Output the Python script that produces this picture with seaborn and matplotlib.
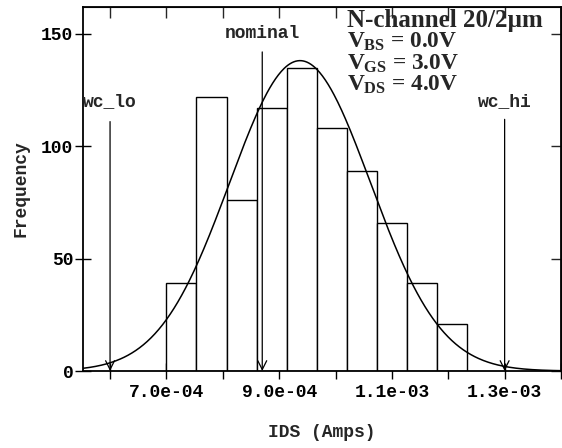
import numpy as np
import pandas as pd
import matplotlib
matplotlib.use("Agg")
import matplotlib.pyplot as plt
import seaborn as sns

# ---- data ----
bin_start = 7.0e-4
bin_width = 5.33e-5
counts = [39, 122, 76, 117, 135, 108, 89, 66, 39, 21]
fit_mean = 9.37e-4
fit_std = 1.25e-4
marker_names = ["wc_lo", "nominal", "wc_hi"]
marker_x = [6.0e-4, 8.7e-4, 1.3e-3]
marker_top = [111, 142, 112]
marker_label_y = [120, 150, 120]
xtick_major = [7.0e-4, 9.0e-4, 1.1e-3, 1.3e-3]
xtick_labels = ["7.0e-04", "9.0e-04", "1.1e-03", "1.3e-03"]
xtick_minor = [6.0e-4, 8.0e-4, 1.0e-3, 1.2e-3, 1.4e-3]
yticks = [0, 50, 100, 150]
cond_title = "N-channel 20/2\u00b5m"
cond_lines = [r"$V_{BS}$ = 0.0V", r"$V_{GS}$ = 3.0V", r"$V_{DS}$ = 4.0V"]

sns.set_style("ticks")
plt.rcParams["font.family"] = ["Liberation Mono", "DejaVu Sans"]
plt.rcParams["font.weight"] = "bold"
plt.rcParams["mathtext.fontset"] = "custom"
plt.rcParams["mathtext.rm"] = "Liberation Serif:bold"
plt.rcParams["mathtext.it"] = "Liberation Serif:bold"
plt.rcParams["mathtext.bf"] = "Liberation Serif:bold"

W, H = 562, 448
fig = plt.figure(figsize=(W / 100, H / 100), dpi=100)
L, R, T, B = 83, 561, 7, 371
ax = fig.add_axes([L / W, 1 - B / H, (R - L) / W, (B - T) / H])

edges = [float(bin_start + bin_width * i) for i in range(len(counts) + 1)]
centers = [(edges[i] + edges[i + 1]) / 2 for i in range(len(counts))]
df = pd.DataFrame({"IDS": centers, "n": counts})
sns.histplot(data=df, x="IDS", weights="n", bins=edges, color="white",
             edgecolor="black", linewidth=1.0, alpha=1, ax=ax)

xlo, xhi = 5.52e-4, 1.4e-3
xs = np.linspace(xlo, xhi, 500)
total = sum(counts)
ys = total * bin_width / (fit_std * np.sqrt(2 * np.pi)) * np.exp(-0.5 * ((xs - fit_mean) / fit_std) ** 2)
sns.lineplot(x=xs, y=ys, color="black", linewidth=1.1, ax=ax)

for name, mx, top, ly in zip(marker_names, marker_x, marker_top, marker_label_y):
    ax.annotate("", xy=(mx, 0), xytext=(mx, top),
                arrowprops=dict(arrowstyle="->", color="black", lw=0.9,
                                shrinkA=0, shrinkB=0, mutation_scale=16))
    ax.text(mx, ly, name, ha="center", va="center", fontsize=13,
            fontweight="bold", family="Liberation Mono")

ax.set_xlim(xlo, xhi)
ax.set_ylim(0, 162)
ax.set_xticks(xtick_major)
ax.set_xticklabels(xtick_labels)
ax.set_xticks(xtick_minor, minor=True)
ax.set_yticks(yticks)
ax.tick_params(axis="both", which="both", direction="inout", length=12, width=1.0,
               labelsize=13, colors="black")
ax.tick_params(axis="x", pad=3)
ax.tick_params(axis="y", pad=1)
for s in ax.spines.values():
    s.set_linewidth(1.3)
    s.set_color("black")
    s.set_visible(True)

secx = ax.secondary_xaxis("top")
secx.set_xticks(sorted(xtick_major + xtick_minor))
secx.tick_params(direction="in", length=8, width=1.0)
secx.set_xticklabels([])
secy = ax.secondary_yaxis("right")
secy.set_yticks(yticks)
secy.tick_params(direction="in", length=7, width=1.0)
secy.set_yticklabels([])

ax.set_xlabel("IDS (Amps)", fontsize=13, fontweight="bold")
ax.xaxis.label.set_va("center")
ax.xaxis.set_label_coords(0.5, -0.17)
ax.set_ylabel("Frequency", fontsize=13, fontweight="bold")
ax.yaxis.label.set_va("center")
ax.yaxis.set_label_coords(-0.13, 0.5)

fig.text(347 / W, 1 - 27 / H, cond_title, ha="left", va="baseline", fontsize=18,
         family="Liberation Serif", fontweight="bold")
for i, line in enumerate(cond_lines):
    fig.text(347 / W, 1 - (48 + 21.5 * i) / H, line, ha="left", va="baseline",
             fontsize=16.8, family="Liberation Serif", fontweight="bold")

fig.savefig("out.png", dpi=100)
